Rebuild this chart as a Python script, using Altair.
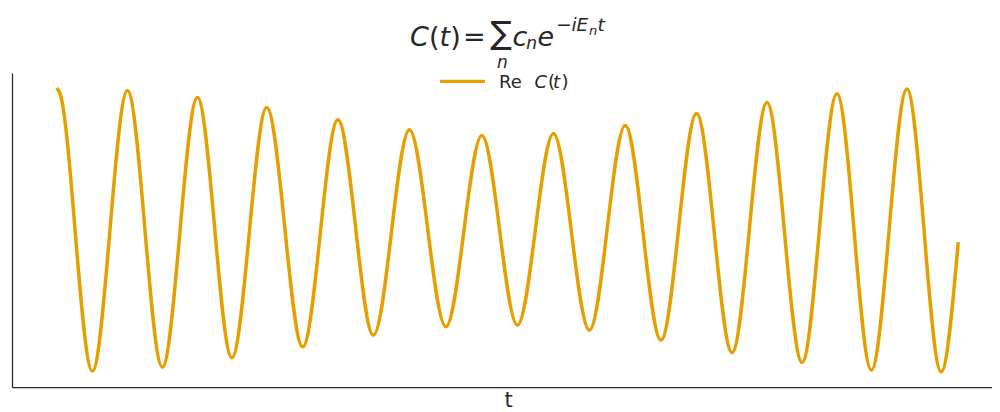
import altair as alt
import pandas as pd

# ---- data (extrema of Re C(t)) ----
peak_t = [0.00, 3.14, 6.25, 9.33, 12.49, 15.67, 18.89, 22.07, 25.26, 28.43, 31.56, 34.67, 37.78]
peak_re = [1.000, 0.982, 0.933, 0.863, 0.776, 0.706, 0.665, 0.680, 0.736, 0.820, 0.898, 0.959, 0.994]
trough_t = [1.58, 4.69, 7.78, 10.93, 14.07, 17.29, 20.47, 23.67, 26.85, 30.01, 33.12, 36.20, 39.30]
trough_re = [-0.994, -0.966, -0.900, -0.823, -0.741, -0.682, -0.670, -0.706, -0.776, -0.863, -0.933, -0.987, -0.999]
# extra points read near the start and at the end of the curve
extra_t = [0.12, 40.06]
extra_re = [0.970, -0.085]

series_name = "Re C(t)"
x_title = "t"

ORANGE = "#E69F00"
INK = "#262626"
FONT = "DejaVu Sans"

ts = peak_t + trough_t + extra_t
vals = peak_re + trough_re + extra_re
df = pd.DataFrame({"t": ts, "re": vals}).sort_values("t").reset_index(drop=True)

W, H = 980, 314
OX, OY = 12, 73  # plot origin on the page

line = alt.Chart(df).mark_line(
    interpolate="monotone", color=ORANGE, strokeWidth=3.5
).encode(
    x=alt.X(
        "t:Q",
        scale=alt.Scale(domain=[-1.99, 41.56], nice=False, zero=False),
        axis=alt.Axis(
            title=x_title, ticks=False, labels=False, grid=False,
            domainColor=INK, domainWidth=1.25,
            titleFont=FONT, titleFontSize=21, titleFontWeight="normal",
            titleColor=INK, titlePadding=19, titleBaseline="alphabetic",
            titleX=496, titleAlign="center",
        ),
    ),
    y=alt.Y(
        "re:Q",
        scale=alt.Scale(domain=[-1.106, 1.106], nice=False, zero=False),
        axis=alt.Axis(
            title=None, ticks=False, labels=False, grid=False,
            domainColor=INK, domainWidth=1.25,
        ),
    ),
)

one = pd.DataFrame({"a": [0]})

# title pieces: (text, page_x, page_baseline_y, size, italic, align)
title_pieces = [
    ("C", 410.0, 45.5, 27, True, "left"),
    ("(", 429.0, 45.5, 27, False, "left"),
    ("t", 439.6, 45.5, 27, True, "left"),
    (")", 450.3, 45.5, 27, False, "left"),
    ("=", 463.0, 45.5, 27, False, "left"),
    ("\u2211", 501.0, 44.0, 32, False, "center"),
    ("n", 502.5, 67.5, 17, True, "center"),
    ("c", 512.5, 45.5, 27, True, "left"),
    ("n", 526.3, 49.3, 17, True, "left"),
    ("e", 537.5, 45.5, 27, True, "left"),
    ("\u2212", 556.0, 31.3, 19, False, "left"),
    ("i", 571.5, 31.3, 18.5, True, "left"),
    ("E", 576.5, 31.3, 18.5, True, "left"),
    ("n", 589.0, 35.3, 13, True, "left"),
    ("t", 597.5, 31.3, 18.5, True, "left"),
]
legend_pieces = [
    ("Re", 499.0, 88.0, 18, False, "left"),
    ("C", 534.5, 88.0, 18, True, "left"),
    ("(", 548.0, 88.0, 18, False, "left"),
    ("t", 553.0, 88.0, 18, True, "left"),
    (")", 561.5, 88.0, 18, False, "left"),
]

layers = [line]
for s, px, py, size, ital, al in title_pieces + legend_pieces:
    kw = dict(font=FONT, fontSize=size, color=INK, align=al, baseline="alphabetic")
    if ital:
        kw["fontStyle"] = "italic"
    layers.append(
        alt.Chart(one).mark_text(**kw).encode(
            x=alt.value(px - OX), y=alt.value(py - OY), text=alt.value(s)
        )
    )

legend_line = alt.Chart(one).mark_rule(color=ORANGE, strokeWidth=3.3).encode(
    x=alt.value(440 - OX), x2=alt.value(485 - OX), y=alt.value(81.3 - OY)
)
layers.append(legend_line)

chart = alt.layer(*layers).properties(
    width=W, height=H,
    autosize=alt.AutoSizeParams(type="none"),
    padding={"left": 4, "top": 65, "right": 0, "bottom": 25},
    background="white",
).configure_view(strokeWidth=0)

chart.save("out.html", embed_options={"renderer": "svg", "actions": False})
